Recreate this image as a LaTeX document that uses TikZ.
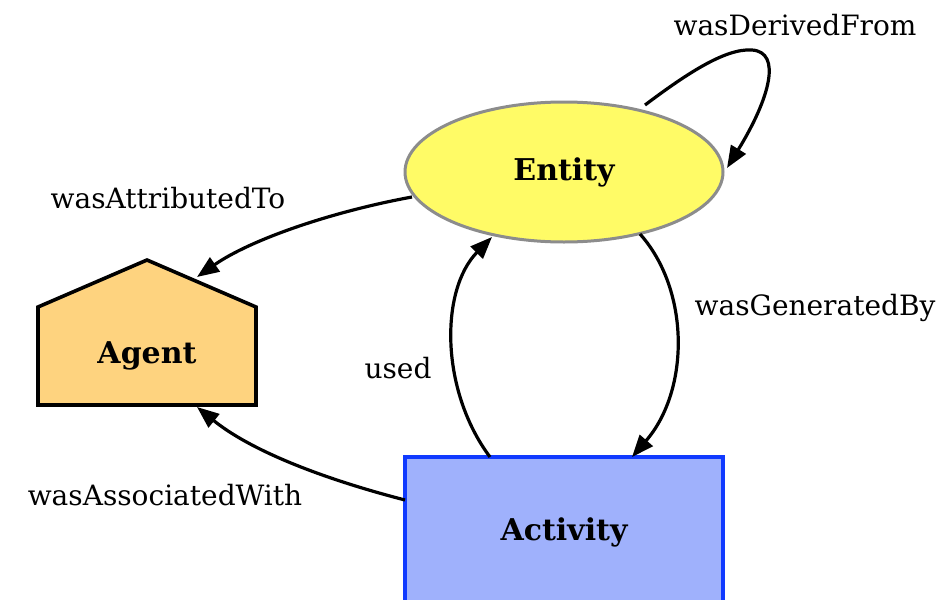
\documentclass[tikz,border=0pt]{standalone}
\usepackage{fontspec}
\setmainfont{DejaVu Serif}
\usetikzlibrary{arrows.meta,shapes.geometric}

\definecolor{entityfill}{RGB}{255,251,102}
\definecolor{entityline}{RGB}{140,140,140}
\definecolor{agentfill}{RGB}{254,211,127}
\definecolor{activityfill}{RGB}{159,177,252}
\definecolor{activityline}{RGB}{16,58,255}

\tikzset{
  rel/.style={line width=3.2pt, -{Triangle[length=22pt,width=17pt]}},
  lbl/.style={font=\fontsize{28}{32}\selectfont, inner sep=0pt},
  nodetext/.style={font=\fontsize{30}{34}\selectfont\bfseries, inner sep=0pt},
}

\begin{document}
\begin{tikzpicture}[x=1pt,y=-1pt]
  \useasboundingbox (0,0) rectangle (938,600);
  \clip (0,0) rectangle (938,600);

  % Entity
  \node[ellipse, draw=entityline, fill=entityfill, line width=3pt,
        minimum width=318pt, minimum height=140pt, inner sep=0pt] (entity) at (564,172) {};
  \node[nodetext] (entitytext) at (entity.center) {Entity};

  % Agent (house shape)
  \draw[fill=agentfill, line width=3.6pt, line join=miter]
    (38,405) -- (38,307) -- (147,260) -- (256,307) -- (256,405) -- cycle;
  \node[nodetext] (agent) at (147,356) {Agent};

  % Activity
  \node[rectangle, draw=activityline, fill=activityfill, line width=3.6pt,
        minimum width=318pt, minimum height=150pt, inner sep=0pt] (activity) at (564,532) {};
  \node[nodetext] (activitytext) at (564,532) {Activity};

  % Connector ends
  \coordinate (derS) at (645,105);
  \coordinate (derT) at (727,168);
  \coordinate (attS) at (412,197);
  \coordinate (attT) at (197,277);
  \coordinate (assS) at (405,500);
  \coordinate (assT) at (197,407);
  \coordinate (useS) at (490,457);
  \coordinate (useT) at (492,237);
  \coordinate (genS) at (640,234);
  \coordinate (genT) at (632,457);

  % Relations
  \draw[rel] (derS) .. controls (685,75) and (725,48) .. (752,50)
                    .. controls (782,52) and (770,98) .. (derT);
  \draw[rel] (attS) .. controls (330,212) and (250,240) .. (attT);
  \draw[rel] (assS) .. controls (320,478) and (250,450) .. (assT);
  \draw[rel] (useS) .. controls (440,390) and (440,290) .. (useT);
  \draw[rel] (genS) .. controls (690,290) and (690,390) .. (genT);

  % Labels
  \node[lbl] (lder) at (795,25) {wasDerivedFrom};
  \node[lbl] (latt) at (168,198) {wasAttributedTo};
  \node[lbl] (lass) at (165,495) {wasAssociatedWith};
  \node[lbl] (luse) at (398,368) {used};
  \node[lbl] (lgen) at (815,308) {wasGeneratedBy};
\end{tikzpicture}
\end{document}
